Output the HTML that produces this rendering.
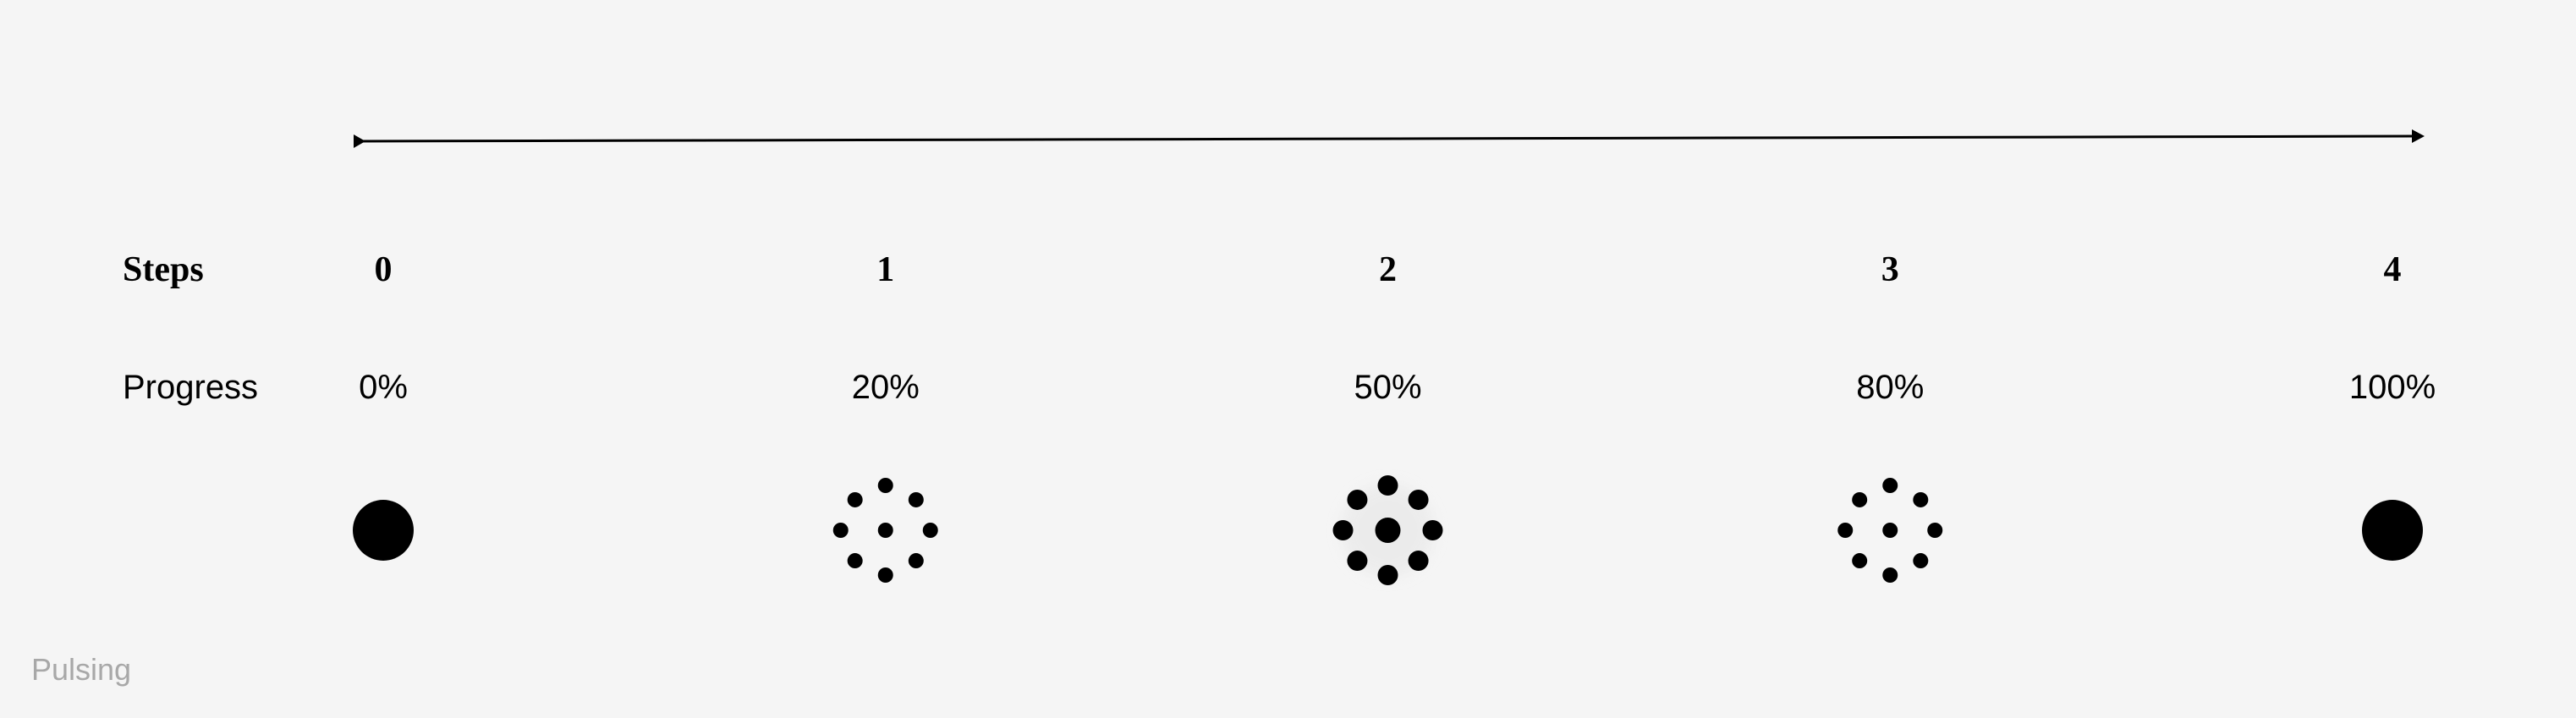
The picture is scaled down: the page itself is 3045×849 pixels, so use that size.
<!DOCTYPE html>
<html><head><meta charset="utf-8"><style>
html,body{margin:0;padding:0;background:#f5f5f5;}
svg{display:block;}
</style></head><body>
<svg width="3045" height="849" viewBox="0 0 3045 849" xmlns="http://www.w3.org/2000/svg">
<defs>
<filter id="glow" x="-50%" y="-50%" width="200%" height="200%"><feGaussianBlur stdDeviation="8"/></filter>
</defs>
<rect width="3045" height="849" fill="#f5f5f5"/>
<g>
<line x1="420" y1="167" x2="2852" y2="161" stroke="#000" stroke-width="3"/>
<polygon points="418,159 418,175 432,167" fill="#000"/>
<polygon points="2851,153 2851,169 2866,161" fill="#000"/>
</g>
<text x="145" y="332" font-family="Liberation Serif, serif" font-weight="bold" font-size="42" fill="#000">Steps</text>
<text x="145" y="471" font-family="Liberation Sans, sans-serif" font-size="40" fill="#000">Progress</text>
<text x="37" y="804" font-family="Liberation Sans, sans-serif" font-size="36" fill="#a8a8a8">Pulsing</text>
<g id="cols"></g>
</svg>
<script>
const steps = ["0","1","2","3","4"];
const progressLabels = ["0%","20%","50%","80%","100%"];
const progressValues = [0,20,50,80,100];
const x0 = 453, dx = 593.75, cy = 627;
function xs(i){ return x0 + i*dx; }
const NS = "http://www.w3.org/2000/svg";
const g = document.getElementById('cols');
function mk(tag, attrs){ const e=document.createElementNS(NS,tag); for(const k in attrs) e.setAttribute(k, attrs[k]); return e; }
steps.forEach((s,i)=>{
  const x = xs(i);
  const t = mk('text',{x:x,y:332,'text-anchor':'middle','font-family':'Liberation Serif, serif','font-weight':'bold','font-size':'42',fill:'#000'});
  t.textContent = s;
  
  
  g.appendChild(t);
  const p = mk('text',{x:x,y:471,'text-anchor':'middle','font-family':'Liberation Sans, sans-serif','font-size':'40',fill:'#000'});
  p.textContent = progressLabels[i];
  
  
  g.appendChild(p);
  const v = progressValues[i];
  const grp = mk('g',{});
  
  
  if (v === 0 || v === 100) {
    grp.appendChild(mk('circle',{cx:x,cy:cy,r:36,fill:'#000'}));
  } else {
    const k = 1 - Math.abs(v-50)/50;
    const big = k > 0.5;
    const dr = big ? 12 : 9;
    const cr = big ? 15 : 9;
    if (big) grp.appendChild(mk('circle',{cx:x,cy:cy,r:55,fill:'#e6e6e6',filter:'url(#glow)',opacity:0.6}));
    for(let a=0;a<8;a++){
      const ang = a*Math.PI/4;
      const rr = (a%2===0)?53:51;
      grp.appendChild(mk('circle',{cx:x+rr*Math.sin(ang),cy:cy-rr*Math.cos(ang),r:dr,fill:'#000'}));
    }
    grp.appendChild(mk('circle',{cx:x,cy:cy,r:cr,fill:'#000'}));
  }
  g.appendChild(grp);
});
</script>
</body></html>
